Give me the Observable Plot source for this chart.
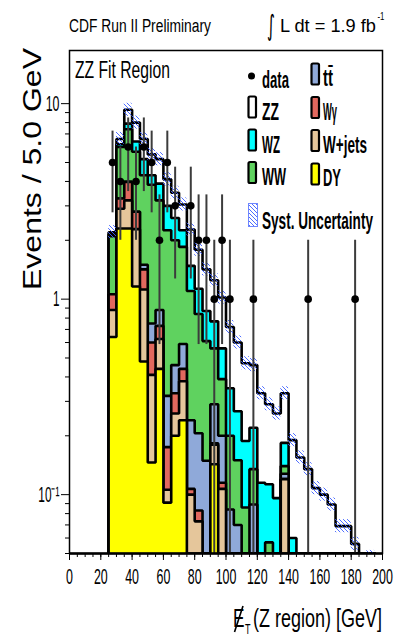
<!DOCTYPE html>
<html>
<head>
<meta charset="utf-8">
<script src="https://cdn.jsdelivr.net/npm/d3@7"></script>
<script src="https://cdn.jsdelivr.net/npm/@observablehq/plot@0.6"></script>
<style>
html,body{margin:0;padding:0;background:#fff;}
#chart svg{display:block;}
</style>
</head>
<body>
<div id="chart"></div>
<script>
// ---------------- data ----------------
// lower edges of the 5 GeV bins
const binLow = [25,30,35,40,45,50,55,60,65,70,75,80,85,90,95,100,105,110,115,120,125,130,135,140,145,150,155,160,165,170,175,180,185,190];
const binWidth = 5;

// observed events per bin
const dataCounts = [5,4,6,4,6,5,2,5,3,0,3,2,2,1,2,1,0,0,1,0,0,0,0,0,0,1,0,0,0,0,0,1,0,0];

// expected yields per process and bin
const yieldDY     = [0.64,2.3,2.3,1.16,0.48,0.146,0.44,0.091,0.2,0.24,0,0,0,0.143,0,0,0,0,0,0,0,0,0,0,0,0,0,0,0,0,0,0,0,0];
const yieldWjets  = [0.24,0.6,0.9,1.12,0.64,0.264,0.185,0.015,0.06,0.14,0.10,0.073,0,0.037,0.107,0,0,0,0,0,0,0,0.12,0,0,0,0,0,0,0,0,0,0,0];
const yieldWgamma = [0.18,0.37,0.78,0.52,0.30,0.19,0.105,0.069,0.07,0.06,0.007,0.01,0,0.003,0.008,0,0,0,0,0,0,0,0,0,0,0,0,0,0,0,0,0,0,0];
const yieldTT     = [0,0,0,0,0.08,0.15,0.15,0.145,0.13,0.15,0.133,0.123,0.149,0.107,0.085,0.084,0.07,0,0.089,0,0,0,0.008,0,0,0,0,0,0,0,0,0,0,0];
const yieldWW     = [1.04,2.73,3.42,2.87,2.8,3.1,2.32,1.93,1.54,1.26,0.86,0.634,0.461,0.27,0.19,0.116,0.08,0.086,0.046,0,0.057,0,0.012,0,0,0,0,0,0,0,0,0,0,0];
const yieldWZ     = [0.05,0.2,0.5,0.73,0.9,0.45,0.7,0.75,0.6,0.4,0.38,0.29,0.26,0.21,0.17,0.15,0.117,0.102,0.085,0.115,0.056,0.096,0.044,0.06,0,0,0,0,0,0,0,0,0,0];
const yieldZZ     = [0.05,0.4,1.4,1.6,1.4,1.2,1.3,1.1,0.9,0.8,0.79,0.66,0.55,0.48,0.46,0.37,0.333,0.282,0.24,0.215,0.177,0.164,0.146,0.13,0.155,0.135,0.108,0.10,0.089,0.069,0.069,0.056,0,0.048];

// relative systematic uncertainty on the total expectation
const systFraction = 0.08;

// processes, bottom of the stack first
const processNames  = ["DY","W+jets","Wγ","tt̄","WW","WZ","ZZ"];
const processColors = ["#ffff00","#e5c69b","#e2685e","#8fa9d9","#5fd25f","#00ffff","#ffffff"];

// axis ticks
const xTicks = [0,20,40,60,80,100,120,140,160,180,200];
const yTicks = [0.1,1,10];
const yTickLabels = ["10⁻¹","1","10"];

// ---------------- chart ----------------
const FONT = "'Liberation Sans', Arial, Helvetica, sans-serif";
const yMin = 0.05, yMax = 18.7;
const edges = [...binLow, binLow[binLow.length-1] + binWidth];

const yieldsBottomUp = [yieldDY, yieldWjets, yieldWgamma, yieldTT, yieldWW, yieldWZ, yieldZZ];
const cumulative = [];
let running = binLow.map(() => 0);
for (const arr of yieldsBottomUp) {
  running = running.map((v, i) => v + arr[i]);
  cumulative.push(running.slice());
}
const total = cumulative[cumulative.length - 1];

function stepOutline(levels) {
  const pts = [{x: edges[0], y: yMin}];
  levels.forEach((v, i) => {
    const c = v > yMin ? v : yMin;
    pts.push({x: edges[i], y: c});
    pts.push({x: edges[i+1], y: c});
  });
  pts.push({x: edges[edges.length-1], y: yMin});
  return pts;
}

const marks = [];
for (let k = cumulative.length - 1; k >= 0; k--) {
  const pts = stepOutline(cumulative[k]);
  marks.push(Plot.areaY(pts, {x: "x", y1: yMin, y2: "y", fill: processColors[k], clip: true}));
  marks.push(Plot.line(pts, {x: "x", y: "y", stroke: "black", strokeWidth: 2.6, strokeLinejoin: "miter", clip: true}));
}

const band = binLow.map((b, i) => ({x1: b, x2: b + binWidth, lo: total[i] / (1 + systFraction), hi: total[i] * (1 + systFraction)}))
  .filter(d => d.hi > 0);
marks.push(Plot.rect(band, {x1: "x1", x2: "x2", y1: "lo", y2: "hi", fill: "url(#systHatch)", clip: true}));

const dataPts = binLow.map((b, i) => ({x: b + binWidth / 2, n: dataCounts[i]})).filter(d => d.n > 0);
marks.push(Plot.ruleX(dataPts, {x: "x", y1: d => Math.max(d.n - Math.sqrt(d.n), yMin * 0.5), y2: d => d.n + Math.sqrt(d.n), stroke: "#3c3c3c", strokeWidth: 2, clip: true}));
marks.push(Plot.dot(dataPts, {x: "x", y: "n", r: 3.8, fill: "black", stroke: "none", clip: true}));

// axes
const minorX = d3.range(0, 201, 5);
const minorY = [];
for (const dec of [0.01, 0.1, 1]) for (let m = 2; m <= 9; m++) { const v = +(m * dec).toPrecision(3); if (v >= yMin && v <= yMax) minorY.push(v); }
marks.push(Plot.axisX(minorX, {tickSize: 4, tickFormat: () => "", stroke: "black"}));
marks.push(Plot.axisX(xTicks, {tickSize: 7, tickPadding: 8, fontSize: 22, tickFormat: d => String(d), stroke: "black", fill: "black"}));
marks.push(Plot.axisY(minorY, {tickSize: 4, tickFormat: () => "", stroke: "black"}));
marks.push(Plot.axisY(yTicks, {tickSize: 8, tickPadding: 2, fontSize: 22, tickFormat: d => yTickLabels[yTicks.indexOf(d)], stroke: "black", fill: "black"}));
marks.push(Plot.ruleY([yMin], {stroke: "black", strokeWidth: 2.5}));
marks.push(Plot.frame({stroke: "black", strokeWidth: 1.5}));

const svg = Plot.plot({
  width: 406, height: 641,
  marginLeft: 69, marginRight: 24, marginTop: 50, marginBottom: 88,
  x: {domain: [0, 200]},
  y: {type: "log", domain: [yMin, yMax]},
  style: {fontFamily: FONT, background: "white", color: "black", overflow: "visible"},
  marks
});
document.getElementById("chart").appendChild(svg);

const root = d3.select(svg);
// hatch pattern
const defs = root.insert("defs", ":first-child");
const pat = defs.append("pattern").attr("id", "systHatch").attr("patternUnits", "userSpaceOnUse").attr("width", 4).attr("height", 4);
pat.append("path").attr("d", "M0,0L4,4M-1,3L1,5M3,-1L5,1").attr("stroke", "#3a5cff").attr("stroke-width", 0.9).attr("fill", "none");

// The original's lettering is tall and narrow: shrink the font to the wanted width
// and stretch it back vertically to the wanted height.
function condense(el, F, len) {
  el.setAttribute("font-size", F);
  const w = el.getComputedTextLength();
  if (!(w > 0)) return;
  const sx = len / w;
  // em offsets (Plot's line anchoring) become dx/dy so they follow the scaled font
  for (const [a, d] of [["x", "dx"], ["y", "dy"]]) {
    const v = el.getAttribute(a);
    if (v !== null && /em$/.test(v)) { el.setAttribute(d, v); el.removeAttribute(a); }
  }
  let tr = el.getAttribute("transform") || "";
  const x = el.getAttribute("x"), y = el.getAttribute("y");
  if (x !== null || y !== null) {
    tr += ` translate(${parseFloat(x) || 0},${parseFloat(y) || 0})`;
    el.removeAttribute("x"); el.removeAttribute("y");
  }
  el.setAttribute("font-size", F * sx);
  el.setAttribute("transform", `${tr} scale(1,${1 / sx})`);
}

root.selectAll('g[aria-label="x-axis tick label"] text').each(function() {
  const s = this.textContent; if (!s) return;
  condense(this, 22, s.length * 6.9);
});
root.selectAll('g[aria-label="y-axis tick label"] text').each(function() {
  const s = this.textContent; if (!s) return;
  condense(this, 22, s === "1" ? 6.5 : s.length === 2 ? 13.8 : 21);
});

function txt(s, x, y, F, len, opts = {}) {
  const t = root.append("text")
    .attr("font-family", opts.family || FONT)
    .attr("font-weight", opts.weight || "normal")
    .attr("text-anchor", opts.anchor || "start")
    .attr("fill", "black")
    .attr("font-size", F)
    .text(s);
  const rot = opts.rotate ? ` rotate(${opts.rotate})` : "";
  t.attr("transform", `translate(${x},${y})${rot}`);
  if (len) condense(t.node(), F, len);
  return t;
}

// header
txt("CDF Run II Preliminary", 69, 31.5, 19, 142);
txt("∫", 267, 35, 28, 8, {family: "DejaVu Sans"});
txt("L dt = 1.9 fb", 280, 31.5, 19, 96);
txt("-1", 377.5, 20, 11, 7);
// region label
txt("ZZ Fit Region", 75, 77.5, 24, 95);
// axis titles
txt("Events / 5.0 GeV", 41, 169, 25, 242, {rotate: -90, anchor: "middle"});
txt("E", 233, 627, 26, 11.5);
root.append("line").attr("x1", 234.5).attr("y1", 632).attr("x2", 243).attr("y2", 606)
  .attr("stroke", "black").attr("stroke-width", 1.6);
txt("T", 245, 634, 15, 5.5);
txt("(Z region) [GeV]", 253, 627, 26, 129);

// legend
const L = root.append("g");
L.append("circle").attr("cx", 251.5).attr("cy", 76).attr("r", 3.5).attr("fill", "black");
txt("data", 262, 88, 24, 27, {weight: "bold"});
const legendItems = [
  {k: 6, x: 248.5, y: 96.5,  tx: 262, ty: 120,   w: 17},
  {k: 5, x: 248.5, y: 129.5, tx: 262, ty: 152.5, w: 18},
  {k: 4, x: 248.5, y: 162,   tx: 262, ty: 185,   w: 24},
  {k: 3, x: 311.5, y: 63.5,  tx: 323, ty: 85.5,  w: 10},
  {k: 2, x: 311.5, y: 97,    tx: 323, ty: 119.5, w: 14},
  {k: 1, x: 311.5, y: 130,   tx: 323, ty: 152.5, w: 44},
  {k: 0, x: 311.5, y: 163.5, tx: 323, ty: 185.5, w: 18}
];
for (const it of legendItems) {
  L.append("rect").attr("x", it.x).attr("y", it.y).attr("width", 7.5).attr("height", 21).attr("rx", 1.5)
    .attr("fill", processColors[it.k]).attr("stroke", "black").attr("stroke-width", 2.2);
  txt(processNames[it.k], it.tx, it.ty, 24, it.w, {weight: "bold"});
}
L.append("rect").attr("x", 248.5).attr("y", 203.5).attr("width", 9).attr("height", 23)
  .attr("fill", "url(#systHatch)").attr("stroke", "#6f86ff").attr("stroke-width", 1);
txt("Syst. Uncertainty", 262, 228.5, 24, 111, {weight: "bold"});
</script>
</body>
</html>
